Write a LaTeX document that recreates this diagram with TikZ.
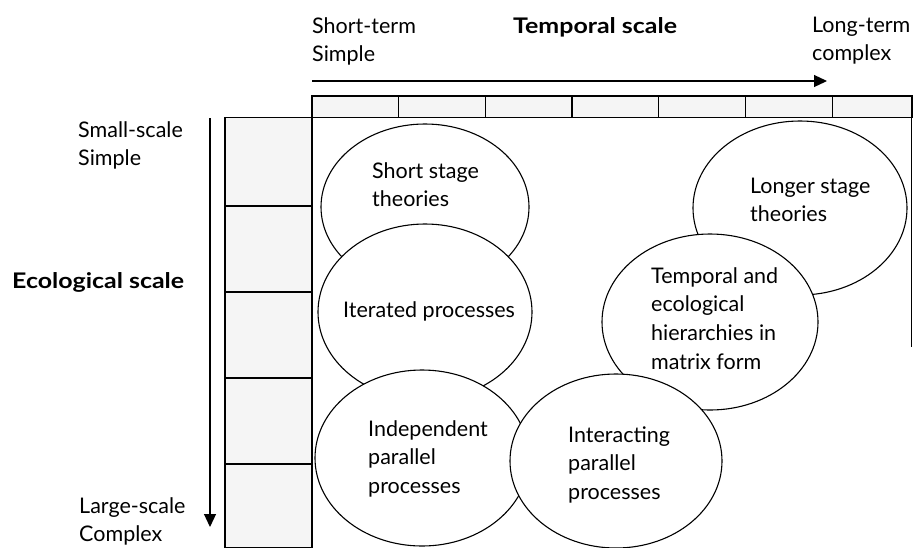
\documentclass[tikz,border=0pt]{standalone}
\usepackage{fontspec}
\setmainfont{Lato}
\newfontfamily\widebold{Lato}[FakeStretch=1.16]
\usetikzlibrary{arrows.meta,shapes.geometric}
\newcommand\mylbl[1]{\begin{tabular}[t]{@{}l@{}}#1\end{tabular}}
\begin{document}
\begin{tikzpicture}[x=1pt,y=-1pt,
  ell/.style={ellipse,draw=black,fill=white,line width=1.1pt,inner sep=0pt},
  frm/.style={draw=black,line width=1.4pt},
  barcell/.style={draw=black,fill=black!4,line width=1.3pt},
  arr/.style={draw=black,line width=1.2pt,-{Triangle[length=13pt,width=12pt]}},
  txt/.style={anchor=base west,inner sep=0pt,font=\fontsize{21.5}{28.7}\selectfont},
  btxt/.style={txt,font=\fontsize{21.5}{28.7}\selectfont\widebold\bfseries}]
\useasboundingbox (0,0) rectangle (913,547);
% top bar cells
\foreach \a/\b in {312/398.7,398.7/485.4,485.4/572.1,572.1/658.8,658.8/745.5,745.5/832.2,832.2/912}
  \draw[barcell] (\a,96) rectangle (\b,117.5);
% left bar cells
\foreach \a/\b in {117.5/206,206/292,292/378,378/464,464/548}
  \draw[barcell] (225,\a) rectangle (312,\b);
% frame lines
\draw[frm] (312,96) -- (312,548);
\draw[frm] (225,117.5) -- (913,117.5);
\draw[frm] (911.5,96) -- (911.5,347);
% arrows
\coordinate (ta0) at (312,81);
\coordinate (ta1) at (827,81);
\draw[arr] (ta0) -- (ta1);
\coordinate (la0) at (210,118);
\coordinate (la1) at (210,527);
\draw[arr] (la0) -- (la1);
% ellipses
\node[ell,minimum width=208pt,minimum height=166pt] (short) at (425,207) {};
\node[ell,minimum width=214pt,minimum height=176pt] (iter) at (425,312) {};
\node[ell,minimum width=214pt,minimum height=176pt] (indep) at (422,458) {};
\node[ell,minimum width=214pt,minimum height=174pt] (longer) at (800,208) {};
\node[ell,minimum width=216pt,minimum height=176pt] (tempo) at (710,322) {};
\node[ell,minimum width=212pt,minimum height=174pt] (inter) at (616,461) {};
% ellipse labels
\node[txt] (tshort) at (372,178) {\mylbl{Short stage\\theories}};
\node[txt] (titer) at (343,317) {\mylbl{Iterated processes}};
\node[txt] (tindep) at (368,436) {\mylbl{Independent\\parallel\\processes}};
\node[txt] (tlonger) at (750,193) {\mylbl{Longer stage\\theories}};
\node[txt] (ttempo) at (651,283) {\mylbl{Temporal and\\ecological\\hierarchies in\\matrix form}};
\node[txt] (tinter) at (568,442) {\mylbl{Interacting\\parallel\\processes}};
% axis labels
\node[txt] (st) at (312,33) {\mylbl{Short-term\\Simple}};
\node[btxt] (ts) at (513,33) {Temporal scale};
\node[txt] (lt) at (812,32) {\mylbl{Long-term\\complex}};
\node[txt] (ss) at (78,137) {\mylbl{Small-scale\\Simple}};
\node[btxt] (es) at (12,288) {Ecological scale};
\node[txt] (ls) at (79,513) {\mylbl{Large-scale\\Complex}};
\end{tikzpicture}
\end{document}
